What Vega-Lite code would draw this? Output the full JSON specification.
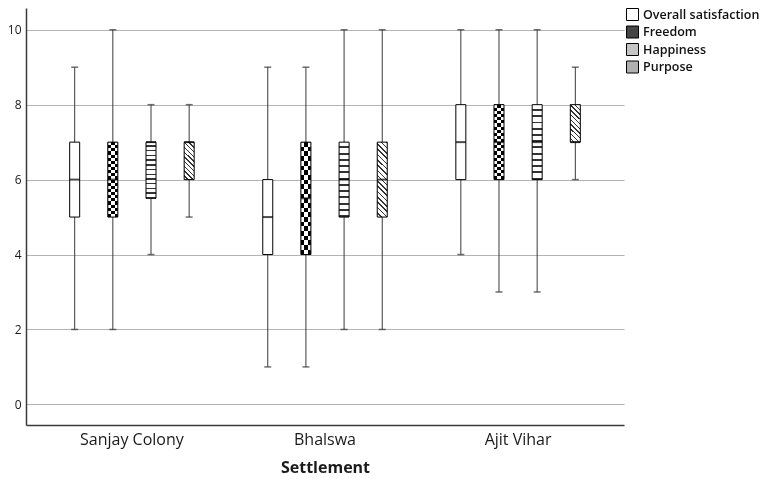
{
  "$schema": "https://vega.github.io/schema/vega-lite/v6.json",
  "width": 598,
  "height": 417,
  "padding": {"left": 7, "top": 8, "right": 0, "bottom": 0},
  "background": "white",
  "config": {
    "font": "Open Sans",
    "view": {"stroke": null},
    "axis": {"labelColor": "#1a1a1a", "titleColor": "#1a1a1a", "domainColor": "#3a3a3a", "domainWidth": 1.5}
  },
  "data": {
    "values": [
      {"settlement": "Sanjay Colony", "measure": "Overall satisfaction", "min": 2, "q1": 5, "median": 6, "q3": 7, "max": 9},
      {"settlement": "Sanjay Colony", "measure": "Freedom", "min": 2, "q1": 5, "median": 6, "q3": 7, "max": 10},
      {"settlement": "Sanjay Colony", "measure": "Happiness", "min": 4, "q1": 5.5, "median": 7, "q3": 7, "max": 8},
      {"settlement": "Sanjay Colony", "measure": "Purpose", "min": 5, "q1": 6, "median": 7, "q3": 7, "max": 8},
      {"settlement": "Bhalswa", "measure": "Overall satisfaction", "min": 1, "q1": 4, "median": 5, "q3": 6, "max": 9},
      {"settlement": "Bhalswa", "measure": "Freedom", "min": 1, "q1": 4, "median": 5.5, "q3": 7, "max": 9},
      {"settlement": "Bhalswa", "measure": "Happiness", "min": 2, "q1": 5, "median": 6, "q3": 7, "max": 10},
      {"settlement": "Bhalswa", "measure": "Purpose", "min": 2, "q1": 5, "median": 6, "q3": 7, "max": 10},
      {"settlement": "Ajit Vihar", "measure": "Overall satisfaction", "min": 4, "q1": 6, "median": 7, "q3": 8, "max": 10},
      {"settlement": "Ajit Vihar", "measure": "Freedom", "min": 3, "q1": 6, "median": 7, "q3": 8, "max": 10},
      {"settlement": "Ajit Vihar", "measure": "Happiness", "min": 3, "q1": 6, "median": 7, "q3": 8, "max": 10},
      {"settlement": "Ajit Vihar", "measure": "Purpose", "min": 6, "q1": 7, "median": 7, "q3": 8, "max": 9}
    ]
  },
  "encoding": {
    "x": {
      "field": "settlement", "type": "nominal",
      "sort": ["Sanjay Colony", "Bhalswa", "Ajit Vihar"],
      "scale": {"paddingInner": 0, "paddingOuter": 0.0486},
      "axis": {"title": "Settlement", "labelAngle": 0, "ticks": false, "labelFontSize": 16, "labelPadding": 6, "titleFontSize": 16, "titleFontWeight": "bold", "titlePadding": 12}
    },
    "xOffset": {
      "field": "measure", "type": "nominal",
      "sort": ["Overall satisfaction", "Freedom", "Happiness", "Purpose"],
      "scale": {"paddingInner": 0, "paddingOuter": 0.53}
    }
  },
  "layer": [
    {
      "mark": {"type": "rule", "stroke": "#3a3a3a", "strokeWidth": 1},
      "encoding": {
        "y": {"field": "min", "type": "quantitative", "title": null,
          "scale": {"domain": [-0.55, 10.58], "nice": false, "zero": false},
          "axis": {"values": [0, 2, 4, 6, 8, 10], "ticks": false, "labelFontSize": 12, "labelPadding": 5, "grid": true, "gridColor": "#b4b4b4", "gridWidth": 1}},
        "y2": {"field": "max"}
      }
    },
    {
      "mark": {"type": "tick", "size": 7, "thickness": 1.5, "color": "#333"},
      "encoding": {"y": {"field": "min", "type": "quantitative", "title": null}}
    },
    {
      "mark": {"type": "tick", "size": 7, "thickness": 1.5, "color": "#333"},
      "encoding": {"y": {"field": "max", "type": "quantitative", "title": null}}
    },
    {
      "mark": {"type": "bar", "width": 10},
      "encoding": {
        "y": {"field": "q1", "type": "quantitative", "title": null},
        "y2": {"field": "q3"},
        "fill": {
          "field": "measure", "type": "nominal",
          "scale": {"domain": ["Overall satisfaction", "Freedom", "Happiness", "Purpose"], "range": ["#ffffff", "#454545", "#c4c4c4", "#b0b0b0"]},
          "legend": {
            "title": null, "orient": "right", "offset": 2, "padding": 0,
            "symbolType": "square", "symbolSize": 144, "symbolStrokeColor": "#000", "symbolStrokeWidth": 1, "symbolOpacity": 1,
            "labelFontSize": 12.5, "labelFontWeight": 600, "labelColor": "#111", "labelOffset": 4, "rowPadding": 0.5
          }
        }
      }
    },
    {
      "transform": [{"filter": "datum.measure === 'Freedom'"}],
      "mark": {"type": "bar", "width": 10, "fill": {"gradient": "linear", "x1": 0, "y1": 0, "x2": 0, "y2": 1, "stops": [
        {"offset": 0, "color": "#000"}, {"offset": 0.0417, "color": "#000"}, {"offset": 0.0417, "color": "#fff"}, {"offset": 0.0833, "color": "#fff"},
        {"offset": 0.0833, "color": "#000"}, {"offset": 0.125, "color": "#000"}, {"offset": 0.125, "color": "#fff"}, {"offset": 0.1667, "color": "#fff"},
        {"offset": 0.1667, "color": "#000"}, {"offset": 0.2083, "color": "#000"}, {"offset": 0.2083, "color": "#fff"}, {"offset": 0.25, "color": "#fff"},
        {"offset": 0.25, "color": "#000"}, {"offset": 0.2917, "color": "#000"}, {"offset": 0.2917, "color": "#fff"}, {"offset": 0.3333, "color": "#fff"},
        {"offset": 0.3333, "color": "#000"}, {"offset": 0.375, "color": "#000"}, {"offset": 0.375, "color": "#fff"}, {"offset": 0.4167, "color": "#fff"},
        {"offset": 0.4167, "color": "#000"}, {"offset": 0.4583, "color": "#000"}, {"offset": 0.4583, "color": "#fff"}, {"offset": 0.5, "color": "#fff"},
        {"offset": 0.5, "color": "#000"}, {"offset": 0.5417, "color": "#000"}, {"offset": 0.5417, "color": "#fff"}, {"offset": 0.5833, "color": "#fff"},
        {"offset": 0.5833, "color": "#000"}, {"offset": 0.625, "color": "#000"}, {"offset": 0.625, "color": "#fff"}, {"offset": 0.6667, "color": "#fff"},
        {"offset": 0.6667, "color": "#000"}, {"offset": 0.7083, "color": "#000"}, {"offset": 0.7083, "color": "#fff"}, {"offset": 0.75, "color": "#fff"},
        {"offset": 0.75, "color": "#000"}, {"offset": 0.7917, "color": "#000"}, {"offset": 0.7917, "color": "#fff"}, {"offset": 0.8333, "color": "#fff"},
        {"offset": 0.8333, "color": "#000"}, {"offset": 0.875, "color": "#000"}, {"offset": 0.875, "color": "#fff"}, {"offset": 0.9167, "color": "#fff"},
        {"offset": 0.9167, "color": "#000"}, {"offset": 0.9583, "color": "#000"}, {"offset": 0.9583, "color": "#fff"}, {"offset": 1, "color": "#fff"}]}},
      "encoding": {
        "y": {"field": "q1", "type": "quantitative", "title": null},
        "y2": {"field": "q3"}
      }
    },
    {
      "transform": [{"filter": "datum.measure === 'Freedom'"}],
      "mark": {"type": "bar", "width": 10, "blend": "difference", "fill": {"gradient": "linear", "x1": 0, "y1": 0, "x2": 1, "y2": 0, "stops": [
        {"offset": 0, "color": "#fff"}, {"offset": 0.333, "color": "#fff"}, {"offset": 0.333, "color": "#000"}, {"offset": 0.667, "color": "#000"},
        {"offset": 0.667, "color": "#fff"}, {"offset": 1, "color": "#fff"}]}},
      "encoding": {
        "y": {"field": "q1", "type": "quantitative", "title": null},
        "y2": {"field": "q3"}
      }
    },
    {
      "transform": [{"filter": "datum.measure === 'Happiness'"}],
      "mark": {"type": "bar", "width": 10, "fill": {"gradient": "linear", "x1": 0, "y1": 0, "x2": 0, "y2": 1, "stops": [
        {"offset": 0, "color": "#fff"}, {"offset": 0.0583, "color": "#fff"}, {"offset": 0.0583, "color": "#333"}, {"offset": 0.0833, "color": "#333"},
        {"offset": 0.0833, "color": "#fff"}, {"offset": 0.1417, "color": "#fff"}, {"offset": 0.1417, "color": "#333"}, {"offset": 0.1667, "color": "#333"},
        {"offset": 0.1667, "color": "#fff"}, {"offset": 0.225, "color": "#fff"}, {"offset": 0.225, "color": "#333"}, {"offset": 0.25, "color": "#333"},
        {"offset": 0.25, "color": "#fff"}, {"offset": 0.3083, "color": "#fff"}, {"offset": 0.3083, "color": "#333"}, {"offset": 0.3333, "color": "#333"},
        {"offset": 0.3333, "color": "#fff"}, {"offset": 0.3917, "color": "#fff"}, {"offset": 0.3917, "color": "#333"}, {"offset": 0.4167, "color": "#333"},
        {"offset": 0.4167, "color": "#fff"}, {"offset": 0.475, "color": "#fff"}, {"offset": 0.475, "color": "#333"}, {"offset": 0.5, "color": "#333"},
        {"offset": 0.5, "color": "#fff"}, {"offset": 0.5583, "color": "#fff"}, {"offset": 0.5583, "color": "#333"}, {"offset": 0.5833, "color": "#333"},
        {"offset": 0.5833, "color": "#fff"}, {"offset": 0.6417, "color": "#fff"}, {"offset": 0.6417, "color": "#333"}, {"offset": 0.6667, "color": "#333"},
        {"offset": 0.6667, "color": "#fff"}, {"offset": 0.725, "color": "#fff"}, {"offset": 0.725, "color": "#333"}, {"offset": 0.75, "color": "#333"},
        {"offset": 0.75, "color": "#fff"}, {"offset": 0.8083, "color": "#fff"}, {"offset": 0.8083, "color": "#333"}, {"offset": 0.8333, "color": "#333"},
        {"offset": 0.8333, "color": "#fff"}, {"offset": 0.8917, "color": "#fff"}, {"offset": 0.8917, "color": "#333"}, {"offset": 0.9167, "color": "#333"},
        {"offset": 0.9167, "color": "#fff"}, {"offset": 0.975, "color": "#fff"}, {"offset": 0.975, "color": "#333"}, {"offset": 1, "color": "#333"}]}},
      "encoding": {
        "y": {"field": "q1", "type": "quantitative", "title": null},
        "y2": {"field": "q3"}
      }
    },
    {
      "transform": [{"filter": "datum.measure === 'Purpose' && datum.q3 - datum.q1 < 1.5"}],
      "mark": {"type": "bar", "width": 10, "fill": {"gradient": "linear", "x1": 0, "y1": 1, "x2": 0.311, "y2": -0.181, "stops": [
        {"offset": 0, "color": "#fff"}, {"offset": 0.07, "color": "#fff"}, {"offset": 0.07, "color": "#333"}, {"offset": 0.1, "color": "#333"},
        {"offset": 0.1, "color": "#fff"}, {"offset": 0.17, "color": "#fff"}, {"offset": 0.17, "color": "#333"}, {"offset": 0.2, "color": "#333"},
        {"offset": 0.2, "color": "#fff"}, {"offset": 0.27, "color": "#fff"}, {"offset": 0.27, "color": "#333"}, {"offset": 0.3, "color": "#333"},
        {"offset": 0.3, "color": "#fff"}, {"offset": 0.37, "color": "#fff"}, {"offset": 0.37, "color": "#333"}, {"offset": 0.4, "color": "#333"},
        {"offset": 0.4, "color": "#fff"}, {"offset": 0.47, "color": "#fff"}, {"offset": 0.47, "color": "#333"}, {"offset": 0.5, "color": "#333"},
        {"offset": 0.5, "color": "#fff"}, {"offset": 0.57, "color": "#fff"}, {"offset": 0.57, "color": "#333"}, {"offset": 0.6, "color": "#333"},
        {"offset": 0.6, "color": "#fff"}, {"offset": 0.67, "color": "#fff"}, {"offset": 0.67, "color": "#333"}, {"offset": 0.7, "color": "#333"},
        {"offset": 0.7, "color": "#fff"}, {"offset": 0.77, "color": "#fff"}, {"offset": 0.77, "color": "#333"}, {"offset": 0.8, "color": "#333"},
        {"offset": 0.8, "color": "#fff"}, {"offset": 0.87, "color": "#fff"}, {"offset": 0.87, "color": "#333"}, {"offset": 0.9, "color": "#333"},
        {"offset": 0.9, "color": "#fff"}, {"offset": 0.97, "color": "#fff"}, {"offset": 0.97, "color": "#333"}, {"offset": 1, "color": "#333"}]}},
      "encoding": {
        "y": {"field": "q1", "type": "quantitative", "title": null},
        "y2": {"field": "q3"}
      }
    },
    {
      "transform": [{"filter": "datum.measure === 'Purpose' && datum.q3 - datum.q1 >= 1.5"}],
      "mark": {"type": "bar", "width": 10, "fill": {"gradient": "linear", "x1": 0, "y1": 1, "x2": 0.1485, "y2": -0.114, "stops": [
        {"offset": 0, "color": "#fff"}, {"offset": 0.0438, "color": "#fff"}, {"offset": 0.0438, "color": "#333"}, {"offset": 0.0625, "color": "#333"},
        {"offset": 0.0625, "color": "#fff"}, {"offset": 0.1063, "color": "#fff"}, {"offset": 0.1063, "color": "#333"}, {"offset": 0.125, "color": "#333"},
        {"offset": 0.125, "color": "#fff"}, {"offset": 0.1688, "color": "#fff"}, {"offset": 0.1688, "color": "#333"}, {"offset": 0.1875, "color": "#333"},
        {"offset": 0.1875, "color": "#fff"}, {"offset": 0.2313, "color": "#fff"}, {"offset": 0.2313, "color": "#333"}, {"offset": 0.25, "color": "#333"},
        {"offset": 0.25, "color": "#fff"}, {"offset": 0.2938, "color": "#fff"}, {"offset": 0.2938, "color": "#333"}, {"offset": 0.3125, "color": "#333"},
        {"offset": 0.3125, "color": "#fff"}, {"offset": 0.3563, "color": "#fff"}, {"offset": 0.3563, "color": "#333"}, {"offset": 0.375, "color": "#333"},
        {"offset": 0.375, "color": "#fff"}, {"offset": 0.4188, "color": "#fff"}, {"offset": 0.4188, "color": "#333"}, {"offset": 0.4375, "color": "#333"},
        {"offset": 0.4375, "color": "#fff"}, {"offset": 0.4813, "color": "#fff"}, {"offset": 0.4813, "color": "#333"}, {"offset": 0.5, "color": "#333"},
        {"offset": 0.5, "color": "#fff"}, {"offset": 0.5438, "color": "#fff"}, {"offset": 0.5438, "color": "#333"}, {"offset": 0.5625, "color": "#333"},
        {"offset": 0.5625, "color": "#fff"}, {"offset": 0.6063, "color": "#fff"}, {"offset": 0.6063, "color": "#333"}, {"offset": 0.625, "color": "#333"},
        {"offset": 0.625, "color": "#fff"}, {"offset": 0.6688, "color": "#fff"}, {"offset": 0.6688, "color": "#333"}, {"offset": 0.6875, "color": "#333"},
        {"offset": 0.6875, "color": "#fff"}, {"offset": 0.7313, "color": "#fff"}, {"offset": 0.7313, "color": "#333"}, {"offset": 0.75, "color": "#333"},
        {"offset": 0.75, "color": "#fff"}, {"offset": 0.7938, "color": "#fff"}, {"offset": 0.7938, "color": "#333"}, {"offset": 0.8125, "color": "#333"},
        {"offset": 0.8125, "color": "#fff"}, {"offset": 0.8563, "color": "#fff"}, {"offset": 0.8563, "color": "#333"}, {"offset": 0.875, "color": "#333"},
        {"offset": 0.875, "color": "#fff"}, {"offset": 0.9188, "color": "#fff"}, {"offset": 0.9188, "color": "#333"}, {"offset": 0.9375, "color": "#333"},
        {"offset": 0.9375, "color": "#fff"}, {"offset": 0.9813, "color": "#fff"}, {"offset": 0.9813, "color": "#333"}, {"offset": 1, "color": "#333"}]}},
      "encoding": {
        "y": {"field": "q1", "type": "quantitative", "title": null},
        "y2": {"field": "q3"}
      }
    },
    {
      "mark": {"type": "bar", "width": 10, "fill": "transparent", "stroke": "#000", "strokeWidth": 1},
      "encoding": {
        "y": {"field": "q1", "type": "quantitative", "title": null},
        "y2": {"field": "q3"}
      }
    },
    {
      "mark": {"type": "tick", "size": 10, "thickness": 2, "color": "#000"},
      "encoding": {"y": {"field": "median", "type": "quantitative", "title": null}}
    }
  ]
}
